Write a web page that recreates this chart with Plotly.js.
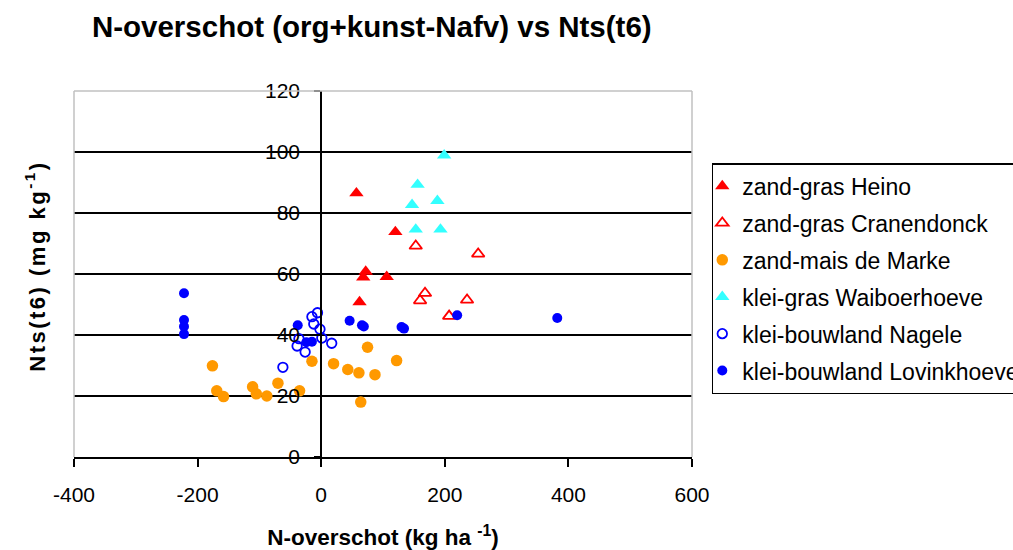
<!DOCTYPE html>
<html>
<head>
<meta charset="utf-8">
<script src="https://cdn.plot.ly/plotly-3.0.1.min.js"></script>
<style>
  html, body { margin: 0; padding: 0; background: #fff; }
  #chart { width: 1013px; height: 550px; }
</style>
</head>
<body>
<div id="chart"></div>
<script>
// series: N-overschot (x) vs Nts(t6) (y)
var heinoX = [57, 120, 72, 68, 106, 62];
var heinoY = [86.5, 73.8, 60.8, 58.9, 59.1, 50.8];

var cranX = [153, 254, 168, 160, 236, 207];
var cranY = [69.2, 66.6, 53.7, 51.3, 51.5, 46.2];

var markeX = [-176, -169, -158, -111, -105, -88, -70, -35, -15, 20, 43, 61, 87, 75, 122, 64];
var markeY = [29.9, 21.7, 19.8, 23, 20.7, 20, 24.2, 21.7, 31.4, 30.6, 28.7, 27.6, 27, 36, 31.6, 18];

var waibX = [199, 156, 147, 188, 153, 193];
var waibY = [98.9, 89.3, 82.7, 84, 74.6, 74.6];

var nageleX = [-62, -39, -36, -26, -15, -12, -6, -2, 1, 17];
var nageleY = [29.4, 36.4, 38.8, 34.4, 46, 43.6, 47.3, 41.9, 39, 37.3];

var lovX = [-222, -222, -222, -222, -38, -24, -15, 46, 66, 69, 130, 134, 220, 382];
var lovY = [53.7, 44.9, 42.8, 40.3, 43.2, 37.6, 37.8, 44.7, 43.2, 42.8, 42.6, 42.1, 46.5, 45.6];

var seriesNames = ['zand-gras Heino', 'zand-gras Cranendonck', 'zand-mais de Marke',
                   'klei-gras Waiboerhoeve', 'klei-bouwland Nagele', 'klei-bouwland Lovinkhoeve'];

var xTickVals = [-400, -200, 0, 200, 400, 600];
var xTickText = ['-400', '-200', '0', '200', '400', '600'];

var FONT = 'Liberation Sans, Arial, sans-serif';

function trace(x, y, i, symbol, color, size, lineWidth) {
	return {
		x: x,
		y: y,
		type: 'scatter',
		mode: 'markers',
		name: seriesNames[i],
		legendgroup: 'g' + i,
		cliponaxis: false,
		marker: {
			symbol: symbol,
			size: size,
			color: color,
			line: { color: color, width: lineWidth }
		}
	};
}

function drawChart() {
	var data = [
		trace(heinoX, heinoY, 0, 'triangle-up', '#ff0000', 12.5, 0),
		trace(cranX, cranY, 1, 'triangle-up-open', '#ff0000', 11, 1.8),
		trace(markeX, markeY, 2, 'circle', '#ff9900', 11.5, 0),
		trace(waibX, waibY, 3, 'triangle-up', '#33ffff', 12.5, 0),
		trace(nageleX, nageleY, 4, 'circle-open', '#0000ff', 9.5, 1.8),
		trace(lovX, lovY, 5, 'circle', '#0000ff', 10, 0)
	];

	var gray = '#c0c0c0';

	var layout = {
		width: 1013,
		height: 550,
		margin: { l: 74, r: 321, t: 91, b: 93, autoexpand: false },
		paper_bgcolor: '#fff',
		plot_bgcolor: '#fff',
		font: { family: FONT, size: 21, color: '#000' },
		showlegend: true,
		title: {
			text: '<b>N-overschot (org+kunst-Nafv) vs Nts(t6)</b>',
			font: { family: FONT, size: 29.5, color: '#000' },
			xref: 'container', x: 0.367, xanchor: 'center',
			yref: 'container', y: 0.951, yanchor: 'middle'
		},
		xaxis: {
			range: [-400, 600],
			tickmode: 'array',
			tickvals: xTickVals,
			ticktext: xTickText,
			showgrid: false,
			zeroline: false,
			showline: true,
			linecolor: '#000',
			linewidth: 2,
			ticks: 'outside',
			ticklen: 8,
			tickwidth: 2,
			tickcolor: '#000',
			ticklabelstandoff: 10,
			tickfont: { family: FONT, size: 21 },
			title: {
				text: '<b>N-overschot (kg ha <sup>-1</sup>)</b>',
				font: { family: FONT, size: 22.5 },
				standoff: 24
			}
		},
		yaxis: {
			range: [0, 120],
			dtick: 20,
			anchor: 'free',
			position: 0.4,
			showgrid: true,
			gridcolor: '#000',
			gridwidth: 1.5,
			zeroline: false,
			showline: true,
			linecolor: '#000',
			linewidth: 2,
			ticks: 'outside',
			ticklen: 6,
			tickwidth: 2,
			tickcolor: '#000',
			ticklabelstandoff: 10,
			tickfont: { family: FONT, size: 21 }
		},
		legend: {
			x: 1.032, xanchor: 'left',
			y: 0.803, yanchor: 'top',
			bgcolor: '#fff',
			bordercolor: '#000',
			borderwidth: 1.5,
			traceorder: 'grouped',
			tracegroupgap: 4,
			itemwidth: 30,
			indentation: -11,
			font: { family: FONT, size: 23, color: '#000' }
		},
		annotations: [{
			text: '<b><span style="letter-spacing:2.5px">Nts(t6) (mg kg<sup>-1</sup>)</span></b>',
			textangle: -90,
			xref: 'paper', yref: 'paper',
			x: -0.063, y: 0.52,
			xanchor: 'center', yanchor: 'middle',
			showarrow: false,
			font: { family: FONT, size: 22, color: '#000' }
		}],
		shapes: [
			{ type: 'line', xref: 'paper', yref: 'paper', x0: 0, y0: 0, x1: 0, y1: 1, line: { color: gray, width: 1.5 } },
			{ type: 'line', xref: 'paper', yref: 'paper', x0: 0, y0: 1, x1: 1, y1: 1, line: { color: gray, width: 1.5 } },
			{ type: 'line', xref: 'paper', yref: 'paper', x0: 1, y0: 0, x1: 1, y1: 1, line: { color: gray, width: 1.5 } }
		]
	};

	Plotly.newPlot('chart', data, layout, { displayModeBar: false, staticPlot: true });
}

window.onload = drawChart;
</script>
</body>
</html>
